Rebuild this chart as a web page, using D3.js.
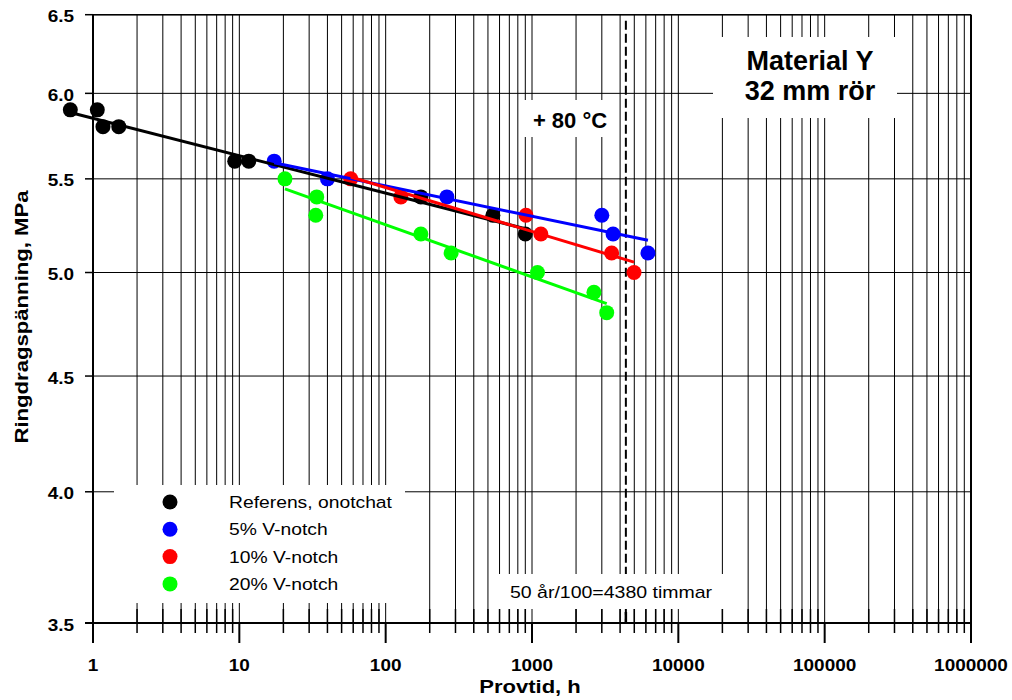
<!DOCTYPE html>
<html><head><meta charset="utf-8">
<script src="https://cdn.jsdelivr.net/npm/d3@7/dist/d3.min.js"></script>
<style>body{margin:0;background:#fff}svg{display:block}</style>
</head><body>
<script>
// ---- data ----
const seriesNames = ["Referens, onotchat", "5% V-notch", "10% V-notch", "20% V-notch"];
const seriesColors = ["#000000", "#0000ff", "#ff0000", "#00ff00"];
const refTime = [0.7, 1.07, 1.17, 1.5, 9.3, 11.6, 174, 540, 900];
const refStress = [5.9, 5.9, 5.8, 5.8, 5.6, 5.6, 5.4, 5.3, 5.2];
const v5Time = [17.3, 40, 262, 3000, 3580, 6200];
const v5Stress = [5.6, 5.5, 5.4, 5.3, 5.2, 5.1];
const v10Time = [57.7, 127, 910, 1150, 3500, 4980];
const v10Stress = [5.5, 5.4, 5.3, 5.2, 5.1, 5.0];
const v20Time = [20.5, 33.8, 33.3, 174, 280, 1090, 2650, 3240];
const v20Stress = [5.5, 5.4, 5.3, 5.2, 5.1, 5.0, 4.9, 4.8];
const xTickValues = [1, 10, 100, 1000, 10000, 100000, 1000000];
const xTickLabels = ["1", "10", "100", "1000", "10000", "100000", "1000000"];
const yTickValues = [3.5, 4.0, 4.5, 5.0, 5.5, 6.0, 6.5];
const yTickLabels = ["3.5", "4.0", "4.5", "5.0", "5.5", "6.0", "6.5"];
const limitTime = 4380;
const xTitle = "Provtid, h";
const yTitle = "Ringdragspänning, MPa";
const noteTemp = "+ 80 °C";
const noteMaterial = ["Material Y", "32 mm rör"];
const noteLimit = "50 år/100=4380 timmar";

const seriesTime = [refTime, v5Time, v10Time, v20Time];
const seriesStress = [refStress, v5Stress, v10Stress, v20Stress];

// ---- layout ----
const W = 1012, H = 700;
const L = 93, R = 971, T = 14.7, B = 623;
const FONT = "'Liberation Sans', Arial, sans-serif";

const svg = d3.select("body").append("svg").attr("width", W).attr("height", H);
const x = d3.scaleLog().domain([1, 1e6]).range([L, R]);
const y = d3.scaleLog().domain([3.5, 6.5]).range([B, T]);

function txt(parent, px, py, str, o) {
  o = o || {};
  const t = parent.append("text")
    .attr("transform", `translate(${px},${py}) rotate(${o.rot || 0}) scale(${o.sx || 1},1)`)
    .attr("font-family", FONT)
    .attr("font-size", o.size || 16)
    .attr("font-weight", o.bold ? "bold" : "normal")
    .attr("text-anchor", o.anchor || "start")
    .attr("fill", "#000")
    .text(str);
  return t;
}

// gridlines
const gridX = [];
for (let k = 0; k < 6; k++) for (let m = 1; m <= 9; m++) gridX.push(m * Math.pow(10, k));
gridX.push(1e6);
const grid = svg.append("g").attr("stroke", "#000").attr("stroke-width", 1);
grid.selectAll("line.gx").data(gridX.filter(v => v > 1)).enter().append("line")
  .attr("x1", d => x(d)).attr("x2", d => x(d)).attr("y1", T).attr("y2", B);
grid.selectAll("line.gy").data(yTickValues).enter().append("line")
  .attr("x1", L).attr("x2", R).attr("y1", d => y(d)).attr("y2", d => y(d));

// dashed limit line
svg.append("line").attr("x1", x(limitTime)).attr("x2", x(limitTime))
  .attr("y1", T + 6).attr("y2", B).attr("stroke", "#000").attr("stroke-width", 2)
  .attr("stroke-dasharray", "9,4");

// white annotation boxes
const boxes = [[114, 485, 291, 118], [520, 100, 97, 37], [713, 37, 184, 81], [493, 574, 236, 35]];
svg.selectAll("rect.box").data(boxes).enter().append("rect")
  .attr("x", d => d[0]).attr("y", d => d[1]).attr("width", d => d[2]).attr("height", d => d[3])
  .attr("fill", "#fff");

// frame & axes
svg.append("line").attr("x1", L).attr("x2", R).attr("y1", T).attr("y2", T).attr("stroke", "#000").attr("stroke-width", 1.5);
svg.append("line").attr("x1", R).attr("x2", R).attr("y1", T).attr("y2", B).attr("stroke", "#000").attr("stroke-width", 2);
svg.append("line").attr("x1", L).attr("x2", L).attr("y1", T).attr("y2", B).attr("stroke", "#000").attr("stroke-width", 2);
svg.append("line").attr("x1", L - 8).attr("x2", R).attr("y1", B).attr("y2", B).attr("stroke", "#000").attr("stroke-width", 2);

// x ticks
const minorX = gridX.filter(v => !xTickValues.includes(v));
const tk = svg.append("g").attr("stroke", "#000");
tk.selectAll("line.mi").data(minorX).enter().append("line")
  .attr("x1", d => x(d)).attr("x2", d => x(d)).attr("y1", B - 14).attr("y2", B + 10).attr("stroke-width", 1.5);
tk.selectAll("line.ma").data(xTickValues).enter().append("line")
  .attr("x1", d => x(d)).attr("x2", d => x(d)).attr("y1", B).attr("y2", B + 20).attr("stroke-width", 2);
tk.append("line").attr("x1", x(limitTime)).attr("x2", x(limitTime)).attr("y1", B - 11).attr("y2", B).attr("stroke-width", 2.5);
xTickValues.forEach((v, i) => txt(svg, x(v), 671, xTickLabels[i], {size: 16.5, bold: true, anchor: "middle", sx: 1.15}));

// y ticks
tk.selectAll("line.yt").data(yTickValues).enter().append("line")
  .attr("x1", L - 8).attr("x2", L).attr("y1", d => y(d)).attr("y2", d => y(d)).attr("stroke-width", 1.5);
yTickValues.forEach((v, i) => txt(svg, 74, y(v) + 7.5, yTickLabels[i], {size: 16.5, bold: true, anchor: "end", sx: 1.15}));

// axis titles
txt(svg, 530, 693, xTitle, {size: 19, bold: true, anchor: "middle", sx: 1.16});
txt(svg, 28, 317, yTitle, {size: 18, bold: true, anchor: "middle", rot: -90, sx: 1.23});

// points
seriesTime.forEach((ts, si) => {
  svg.append("g").selectAll("circle").data(ts.map((t, i) => [t, seriesStress[si][i]])).enter()
    .append("circle").attr("cx", d => x(d[0])).attr("cy", d => y(d[1])).attr("r", 7.5)
    .attr("fill", seriesColors[si]);
});

// regression lines (log-log least squares over each series)
seriesTime.forEach((ts, si) => {
  const lx = ts.map(t => Math.log10(t)), ly = seriesStress[si].map(v => Math.log10(v));
  const mx = d3.mean(lx), my = d3.mean(ly);
  const b = d3.sum(lx.map((v, i) => (v - mx) * (ly[i] - my))) / d3.sum(lx.map(v => (v - mx) * (v - mx)));
  const ends = d3.extent(ts);
  const pts = ends.map(t => [t, Math.pow(10, my + b * (Math.log10(t) - mx))]);
  svg.append("path").attr("d", d3.line().x(d => x(d[0])).y(d => y(d[1]))(pts))
    .attr("stroke", seriesColors[si]).attr("stroke-width", 3).attr("fill", "none");
});

// legend
seriesNames.forEach((n, i) => {
  const cy = 502 + i * 27.3;
  svg.append("circle").attr("cx", 170).attr("cy", cy).attr("r", 7.5).attr("fill", seriesColors[i]);
  txt(svg, 229, cy + 6, n, {size: 16.5, sx: 1.17});
});

// annotations
txt(svg, 570, 128, noteTemp, {size: 22, bold: true, anchor: "middle"});
txt(svg, 810, 70, noteMaterial[0], {size: 27, bold: true, anchor: "middle"});
txt(svg, 810, 100, noteMaterial[1], {size: 27, bold: true, anchor: "middle"});
txt(svg, 611, 598, noteLimit, {size: 16, anchor: "middle", sx: 1.22});
</script>
</body></html>
